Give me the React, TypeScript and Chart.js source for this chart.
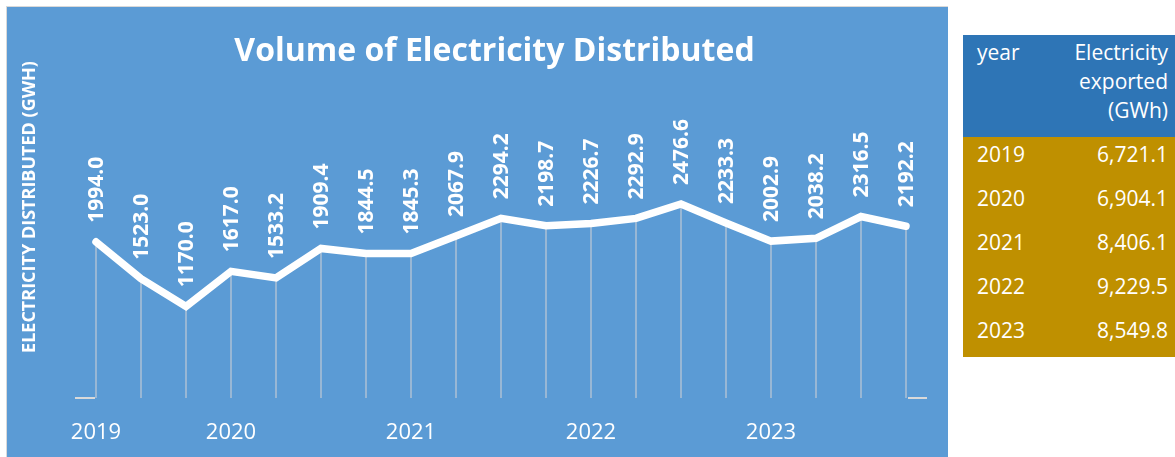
import React, { useEffect, useRef } from "react";
import { Chart, registerables } from "chart.js";

Chart.register(...registerables);

// ---- Data ----
const quarterYears = [
  "2019", "2019", "2019",
  "2020", "2020", "2020", "2020",
  "2021", "2021", "2021", "2021",
  "2022", "2022", "2022", "2022",
  "2023", "2023", "2023", "2023",
];
const quarterNames = [
  "Q2", "Q3", "Q4",
  "Q1", "Q2", "Q3", "Q4",
  "Q1", "Q2", "Q3", "Q4",
  "Q1", "Q2", "Q3", "Q4",
  "Q1", "Q2", "Q3", "Q4",
];
const distributed = [
  1994.0, 1523.0, 1170.0, 1617.0, 1533.2, 1909.4, 1844.5, 1845.3, 2067.9, 2294.2,
  2198.7, 2226.7, 2292.9, 2476.6, 2233.3, 2002.9, 2038.2, 2316.5, 2192.2,
];
const tableYears = ["2019", "2020", "2021", "2022", "2023"];
const exported = [6721.1, 6904.1, 8406.1, 9229.5, 8549.8];

const chartTitle = "Volume of Electricity Distributed";
const yAxisTitle = "ELECTRICITY DISTRIBUTED (GWH)";
const tableHeaderYear = "year";
const tableHeaderValue = ["Electricity", "exported", "(GWh)"];
const yMin = 0;
const yMax = 3000;

const FONT = "'Open Sans', 'DejaVu Sans', sans-serif";

const dropLinesPlugin = {
  id: "dropLines",
  beforeDatasetsDraw(chart: any) {
    const meta = chart.getDatasetMeta(0);
    const { ctx, chartArea } = chart;
    const pts = meta.data;
    if (!pts.length) return;
    ctx.save();
    ctx.strokeStyle = "rgba(200,205,212,0.75)";
    ctx.lineWidth = 1.5;
    for (const el of pts) {
      ctx.beginPath();
      ctx.moveTo(el.x, el.y);
      ctx.lineTo(el.x, chartArea.bottom);
      ctx.stroke();
    }
    ctx.strokeStyle = "#D9D9D9";
    ctx.lineWidth = 2;
    ctx.beginPath();
    ctx.moveTo(chartArea.left + 1.5, chartArea.bottom);
    ctx.lineTo(pts[0].x - 1, chartArea.bottom);
    ctx.moveTo(pts[pts.length - 1].x + 2, chartArea.bottom);
    ctx.lineTo(chartArea.right - 1.5, chartArea.bottom);
    ctx.stroke();
    ctx.restore();
  },
};

const valueLabelsPlugin = {
  id: "valueLabels",
  afterDatasetsDraw(chart: any) {
    const meta = chart.getDatasetMeta(0);
    const data = chart.data.datasets[0].data as number[];
    const { ctx } = chart;
    const size = 21;
    ctx.save();
    ctx.fillStyle = "#FFFFFF";
    ctx.font = `bold ${size}px ${FONT}`;
    ctx.textAlign = "left";
    ctx.textBaseline = "alphabetic";
    meta.data.forEach((el: any, i: number) => {
      ctx.save();
      ctx.translate(el.x, el.y - 19);
      ctx.rotate(-Math.PI / 2);
      ctx.fillText(data[i].toFixed(1), 0, size * 0.357);
      ctx.restore();
    });
    ctx.restore();
  },
};

const yTitlePlugin = {
  id: "yTitle",
  afterDraw(chart: any) {
    const { ctx } = chart;
    const size = 18;
    ctx.save();
    ctx.translate(22, 200);
    ctx.rotate(-Math.PI / 2);
    ctx.fillStyle = "#FFFFFF";
    ctx.font = `bold ${size}px ${FONT}`;
    ctx.textAlign = "center";
    ctx.textBaseline = "alphabetic";
    ctx.fillText(yAxisTitle, 0, size * 0.357);
    ctx.restore();
  },
};

function ElectricityChart() {
  const ref = useRef<HTMLCanvasElement | null>(null);
  useEffect(() => {
    if (!ref.current) return;
    const labels = quarterYears.map((y, i) => `${y} ${quarterNames[i]}`);
    const chart = new Chart(ref.current, {
      type: "line",
      data: {
        labels,
        datasets: [
          {
            data: distributed,
            borderColor: "#FFFFFF",
            borderWidth: 7.5,
            borderCapStyle: "round",
            borderJoinStyle: "miter",
            pointRadius: 0,
            pointHoverRadius: 0,
            tension: 0,
            fill: false,
          },
        ],
      },
      options: {
        responsive: false,
        animation: false,
        devicePixelRatio: 1,
        layout: { padding: { left: 53.5, right: 18.5, top: 0, bottom: 0 } },
        plugins: {
          legend: { display: false },
          tooltip: { enabled: false },
          title: {
            display: true,
            text: chartTitle,
            color: "#FFFFFF",
            font: { family: FONT, size: 32, weight: "bold" },
            padding: { top: 25.6, bottom: 92 },
          },
        },
        scales: {
          x: {
            type: "category",
            offset: true,
            grid: { display: false, drawTicks: false },
            border: { display: false },
            ticks: {
              autoSkip: false,
              maxRotation: 0,
              minRotation: 0,
              padding: 22,
              color: "#FFFFFF",
              font: { family: FONT, size: 22 },
              callback: (_v: any, idx: number) =>
                idx === 0 || quarterYears[idx] !== quarterYears[idx - 1] ? quarterYears[idx] : "",
            },
            afterFit: (s: any) => {
              s.height = 59;
            },
          },
          y: {
            min: yMin,
            max: yMax,
            grid: { display: false, drawTicks: false },
            border: { display: false },
            ticks: { display: false },
            afterFit: (s: any) => {
              s.width = 13;
            },
          },
        },
      },
      plugins: [dropLinesPlugin, valueLabelsPlugin, yTitlePlugin],
    });
    return () => chart.destroy();
  }, []);
  return <canvas ref={ref} width={940} height={450} style={{ display: "block" }} />;
}

function DataTable() {
  const cell: React.CSSProperties = {
    boxSizing: "border-box",
    paddingTop: 3,
    lineHeight: "29px",
    fontSize: 21,
    color: "#FFFFFF",
  };
  return (
    <div style={{ position: "absolute", left: 963, top: 35, width: 212, fontFamily: FONT }}>
      <div style={{ display: "flex", background: "#2E75B6", height: 102 }}>
        <div style={{ ...cell, width: 90, paddingLeft: 14 }}>{tableHeaderYear}</div>
        <div style={{ ...cell, flex: 1, textAlign: "right", paddingRight: 7 }}>
          {tableHeaderValue.map((t) => (
            <div key={t}>{t}</div>
          ))}
        </div>
      </div>
      {tableYears.map((y, i) => (
        <div key={y} style={{ display: "flex", background: "#BF9000", height: 44 }}>
          <div style={{ ...cell, width: 90, paddingLeft: 14 }}>{y}</div>
          <div style={{ ...cell, flex: 1, textAlign: "right", paddingRight: 7 }}>
            {exported[i].toLocaleString("en-US", { minimumFractionDigits: 1, maximumFractionDigits: 1 })}
          </div>
        </div>
      ))}
    </div>
  );
}

export default function App() {
  return (
    <div
      style={{
        position: "absolute",
        left: 0,
        top: 0,
        width: 1175,
        height: 457,
        overflow: "hidden",
        background: "#FFFFFF",
      }}
    >
      <div
        style={{
          position: "absolute",
          left: 6,
          top: 6,
          width: 941,
          height: 460,
          borderTop: "1px solid #D9D9D9",
          borderLeft: "1px solid #D9D9D9",
          background: "#5B9BD5",
        }}
      >
        <ElectricityChart />
      </div>
      <DataTable />
    </div>
  );
}
